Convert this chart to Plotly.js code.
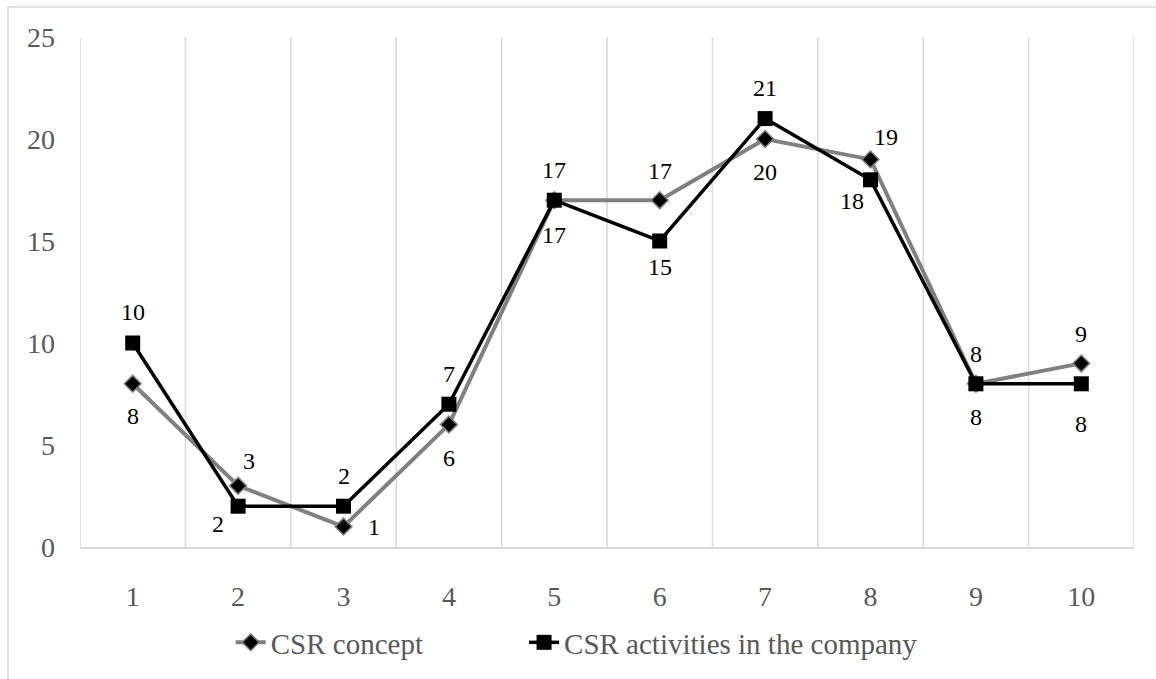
<!DOCTYPE html>
<html>
<head>
<meta charset="utf-8">
<script src="https://cdn.plot.ly/plotly-3.0.1.min.js"></script>
<style>
  html, body { margin: 0; padding: 0; background: #fff; }
  #chart { width: 1156px; height: 679px; }
</style>
</head>
<body>
<div id="chart"></div>
<script>
const categories = [1, 2, 3, 4, 5, 6, 7, 8, 9, 10];
const tickLabels = ['1', '2', '3', '4', '5', '6', '7', '8', '9', '10'];
const csrConcept = [8, 3, 1, 6, 17, 17, 20, 19, 8, 9];
const csrActivities = [10, 2, 2, 7, 17, 15, 21, 18, 8, 8];
const seriesNames = ['CSR concept', 'CSR activities in the company'];
const yTicks = [0, 5, 10, 15, 20, 25];

// label offsets in pixels [xshift, yshift]
const conceptLabelShift = [[0,-32],[11,25],[30,0],[0,-33],[0,-35],[0,29],[0,-33],[15,22],[0,30],[0,29]];
const activitiesLabelShift = [[0,31],[-20,-18],[0,30],[0,30],[0,30],[0,-26],[0,31],[-19,-21],[0,-33],[0,-40]];

const serif = 'Times New Roman, Liberation Serif, Tinos, DejaVu Serif, Noto Serif, serif';

const traces = [
  {
    x: categories, y: csrConcept, name: seriesNames[0], type: 'scatter', mode: 'lines+markers',
    legend: 'legend',
    line: { color: '#808080', width: 4 },
    marker: { symbol: 'diamond', size: 13, color: '#000000', line: { color: '#808080', width: 1.5 } }
  },
  {
    x: categories, y: csrActivities, name: seriesNames[1], type: 'scatter', mode: 'lines+markers',
    legend: 'legend2',
    line: { color: '#000000', width: 3.5 },
    marker: { symbol: 'square', size: 15, color: '#000000' }
  }
];

const annotations = [];
categories.forEach((c, i) => {
  annotations.push({ x: c, y: csrConcept[i], xref: 'x', yref: 'y', text: String(csrConcept[i]),
    showarrow: false, xshift: conceptLabelShift[i][0], yshift: conceptLabelShift[i][1],
    font: { family: serif, size: 24, color: '#000' } });
  annotations.push({ x: c, y: csrActivities[i], xref: 'x', yref: 'y', text: String(csrActivities[i]),
    showarrow: false, xshift: activitiesLabelShift[i][0], yshift: activitiesLabelShift[i][1],
    font: { family: serif, size: 24, color: '#000' } });
});

const boundaries = [];
for (let i = 0; i <= categories.length; i++) boundaries.push(categories[0] - 0.5 + i);
const shapes = boundaries.map(b => ({
  type: 'line', xref: 'x', yref: 'paper', x0: b, x1: b, y0: 0, y1: 1,
  line: { color: '#d9d9d9', width: 1.5 }, layer: 'below'
}));
// outer chart border (top and left)
shapes.push({ type: 'path', xref: 'paper', yref: 'paper',
  path: 'M -0.0683,-0.3 L -0.0683,1.0587 L 1.1,1.0587',
  line: { color: '#d9d9d9', width: 1.5 } });

const legendFont = { family: serif, size: 29, color: '#595959' };

const layout = {
  width: 1156, height: 679,
  margin: { l: 80, r: 22, t: 37, b: 131 },
  paper_bgcolor: '#fff', plot_bgcolor: '#fff',
  font: { family: serif },
  showlegend: true,
  legend: { orientation: 'h', x: 0.143, xanchor: 'left', y: -0.135, yanchor: 'top', font: legendFont },
  legend2: { orientation: 'h', x: 0.4213, xanchor: 'left', y: -0.135, yanchor: 'top', font: legendFont },
  xaxis: {
    range: [0.5, 10.5], tickvals: categories, ticktext: tickLabels,
    showgrid: false, zeroline: false, showline: true, linecolor: '#d9d9d9', linewidth: 1.5,
    ticks: '', ticklabelstandoff: 24,
    tickfont: { family: serif, size: 28, color: '#595959' }, fixedrange: true
  },
  yaxis: {
    range: [0, 25], tickvals: yTicks, showgrid: false, zeroline: false, showline: false,
    ticks: '', ticklabelstandoff: 24,
    tickfont: { family: serif, size: 28, color: '#595959' }, fixedrange: true
  },
  shapes: shapes,
  annotations: annotations
};

Plotly.newPlot('chart', traces, layout, { displayModeBar: false, staticPlot: true });
</script>
</body>
</html>
